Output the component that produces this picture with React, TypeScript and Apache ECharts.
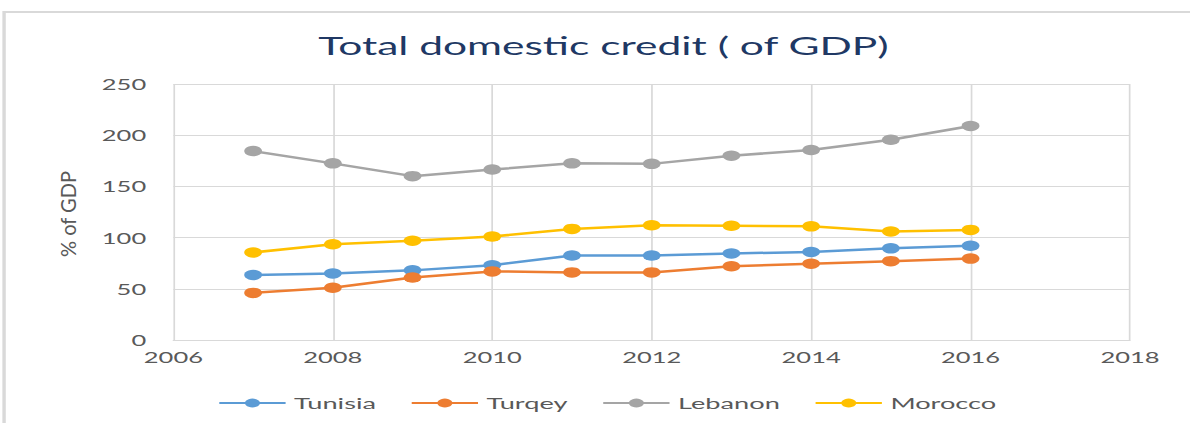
import React, { useEffect, useRef } from "react";
import * as echarts from "echarts";

const years = [2007, 2008, 2009, 2010, 2011, 2012, 2013, 2014, 2015, 2016];
const tunisia = [63.5, 65, 68, 73, 82.5, 82.5, 84.5, 86, 89.5, 92];
const turqey = [46, 51, 61, 67, 66, 66, 72, 74.5, 77, 79.5];
const lebanon = [184.5, 172.5, 160, 166.5, 172.5, 172, 180, 185.5, 195.5, 209];
const morocco = [85.5, 93.5, 97, 101, 108.5, 112, 111.5, 111, 106, 107.5];

const seriesNames = ["Tunisia", "Turqey", "Lebanon", "Morocco"];
const seriesColors = ["#5B9BD5", "#ED7D31", "#A5A5A5", "#FFC000"];
const seriesValues = [tunisia, turqey, lebanon, morocco];

const STRETCH = 1.7;
const W = 700;
const H = 423;

export default function App() {
  const ref = useRef<HTMLDivElement>(null);
  useEffect(() => {
    if (!ref.current) return;
    const chart = echarts.init(ref.current, undefined, { renderer: "svg" });
    const font = "Lato";
    chart.setOption({
      animation: false,
      backgroundColor: "#ffffff",
      title: {
        text: "Total domestic credit ( of GDP)",
        left: 350,
        textAlign: "center",
        top: 28,
        textStyle: { fontFamily: font, fontSize: 25, fontWeight: "normal", color: "#203864" },
      },
      graphic: [
        {
          type: "rect",
          shape: { x: 2.4, y: 12, width: 900, height: 600 },
          style: { fill: "none", stroke: "#d9d9d9", lineWidth: 2 },
          silent: true,
        },
        {
          type: "text",
          x: 40,
          y: 214,
          rotation: Math.PI / 2,
          scaleX: 1,
          scaleY: 0.6,
          style: {
            text: "% of GDP",
            fontFamily: font,
            fontSize: 20,
            fill: "#595959",
            align: "center",
            verticalAlign: "middle",
          },
        },
      ],
      legend: {
        left: 123,
        top: 390,
        itemWidth: 39,
        itemHeight: 11,
        itemGap: 20,
        textStyle: { fontFamily: font, fontSize: 16, color: "#595959" },
        data: seriesNames,
      },
      grid: { left: 102, right: 35.3, top: 84, bottom: 83, containLabel: false },
      xAxis: {
        type: "value",
        min: 2006,
        max: 2018,
        interval: 2,
        axisLine: { show: true, lineStyle: { color: "#d9d9d9", width: 1 } },
        axisTick: { show: false },
        splitLine: { show: true, lineStyle: { color: "#d9d9d9", width: 1 } },
        axisLabel: {
          fontFamily: font,
          fontSize: 15,
          color: "#595959",
          margin: 9,
          formatter: (v: number) => String(v),
        },
      },
      yAxis: {
        type: "value",
        min: 0,
        max: 250,
        interval: 50,
        axisLine: { show: false },
        axisTick: { show: false },
        splitLine: { show: true, lineStyle: { color: "#d9d9d9", width: 1 } },
        axisLabel: { fontFamily: font, fontSize: 15, color: "#595959", margin: 16 },
      },
      series: seriesNames.map((name, i) => ({
        name,
        type: "line",
        data: years.map((y, j) => [y, seriesValues[i][j]]),
        symbol: "circle",
        symbolSize: 10.5,
        itemStyle: { color: seriesColors[i] },
        lineStyle: { color: seriesColors[i], width: 2.5 },
      })),
    });
    return () => chart.dispose();
  }, []);
  return (
    <div
      ref={ref}
      style={{
        position: "absolute",
        left: 0,
        top: 0,
        width: W,
        height: H,
        transform: `scaleX(${STRETCH})`,
        transformOrigin: "0 0",
      }}
    />
  );
}
